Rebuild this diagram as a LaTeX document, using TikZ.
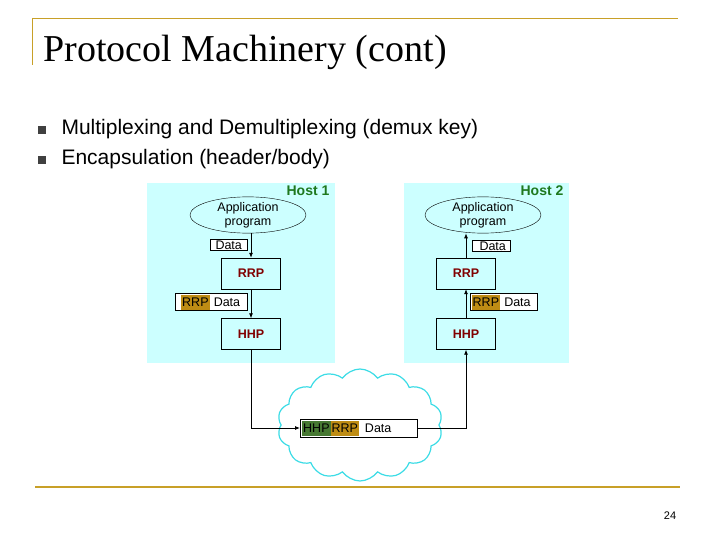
\documentclass[tikz,border=0pt]{standalone}
\usepackage{fontspec}
\setmainfont{Liberation Serif}
\newfontfamily\sans{Liberation Sans}
\usetikzlibrary{shapes.symbols,shapes.geometric,arrows.meta}
\definecolor{gold}{RGB}{200,160,40}
\definecolor{hostbg}{RGB}{204,255,255}
\definecolor{dred}{RGB}{128,0,0}
\definecolor{hgreen}{RGB}{30,120,30}
\definecolor{rrpfill}{RGB}{190,140,20}
\definecolor{hhpfill}{RGB}{70,120,50}
\definecolor{cloudc}{RGB}{60,220,230}
\begin{document}
\begin{tikzpicture}[x=1pt,y=-1pt,
  layer/.style={draw,thin,fill=hostbg,minimum width=59pt,minimum height=31pt,font=\sans\bfseries\fontsize{12.5}{14}\selectfont,text=dred},
  hdr/.style={draw,thin,fill=white,inner sep=1pt,font=\sans\fontsize{12.5}{14}\selectfont,anchor=west},
  app/.style={draw,thin,ellipse,minimum width=116pt,minimum height=30pt,inner sep=0pt,align=center,font=\sans\fontsize{12.5}{14}\selectfont},
  lbl/.style={font=\sans\bfseries\fontsize{14}{16}\selectfont,text=hgreen},
  conn/.style={thick,-{Latex[length=5pt,width=4pt]}},
  bul/.style={fill=black!75,minimum size=8pt,inner sep=0pt}]
\useasboundingbox (0,0) rectangle (720,540);
\draw[gold,thick] (32,18) -- (678,18) (32,18) -- (32,65);
\draw[gold,line width=1.5pt] (35,487) -- (680,487);
\node[anchor=west,font=\fontsize{38}{40}\selectfont] (title) at (40,52) {Protocol Machinery (cont)};
\node[bul] (b1) at (42,130) {};
\node[bul] (b2) at (42,160) {};
\node[anchor=west,font=\sans\fontsize{21}{24}\selectfont] (t1) at (58,129) {Multiplexing and Demultiplexing (demux key)};
\node[anchor=west,font=\sans\fontsize{21}{24}\selectfont] (t2) at (58,159) {Encapsulation (header/body)};
\fill[hostbg] (147,183) rectangle (335,363);
\fill[hostbg] (404,183) rectangle (569,363);
\node[lbl] (h1) at (308,191) {Host 1};
\node[lbl] (h2) at (542,191) {Host 2};
\node[app] (a1) at (248,215) {Application\\program};
\node[app] (a2) at (483,215) {Application\\program};
\node[layer] (r1) at (251,273.5) {RRP};
\node[layer] (p1) at (251,334) {HHP};
\node[layer] (r2) at (466,273.5) {RRP};
\node[layer] (p2) at (466,334) {HHP};
\node[hdr,minimum width=37pt] (d1) at (210,245) {Data};
\node[hdr,minimum width=38pt] (d2) at (472,246) {\hspace*{3pt}Data};
\node[hdr,minimum width=72pt,text width=68pt] (rd1) at (175,302) {\hspace*{4pt}\colorbox{rrpfill}{\rule{0pt}{9pt}\hspace*{-2pt}RRP\hspace*{-2pt}} Data};
\node[hdr,minimum width=67pt,text width=64pt,inner sep=1pt] (rd2) at (470,302) {\colorbox{rrpfill}{\rule{0pt}{9pt}\hspace*{-2pt}RRP\hspace*{-2pt}} Data};
\node[cloud,cloud puffs=14,cloud puff arc=110,draw=cloudc,very thick,fill=white,minimum width=165pt,minimum height=112pt,aspect=1.4] (net) at (360,425) {};
\node[hdr,minimum width=117pt,minimum height=18pt,text width=113pt] (pk) at (300,428) {\colorbox{hhpfill}{\rule{0pt}{9pt}\hspace*{-2pt}HHP\hspace*{-2pt}}\colorbox{rrpfill}{\rule{0pt}{9pt}\hspace*{-2pt}RRP\hspace*{-2pt}}\hspace*{6pt}Data};
\draw[conn] (a1.south -| r1.north) -- (r1.north);
\draw[conn] (r1.south) -- (p1.north);
\draw[conn] (p1.south) |- (pk.west);
\draw[conn] (pk.east) -| (p2.south);
\draw[conn] (p2.north) -- (r2.south);
\draw[conn] (r2.north) -- (r2.north |- a2.south);
\node[font=\sans\fontsize{11}{12}\selectfont] (pg) at (670,516) {24};
\end{tikzpicture}
\end{document}
